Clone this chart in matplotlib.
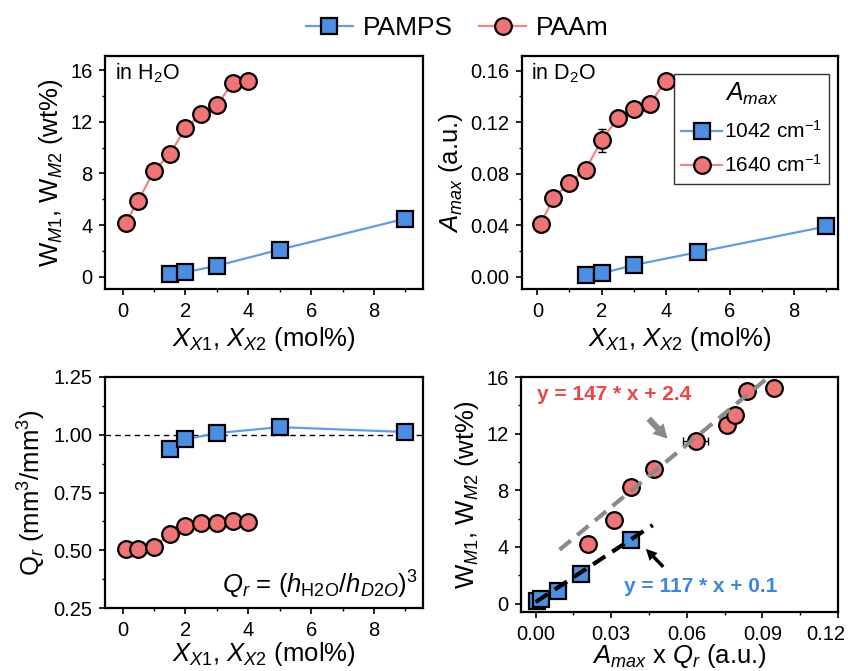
import numpy as np
import matplotlib
matplotlib.use("Agg")
import matplotlib.pyplot as plt
from matplotlib.lines import Line2D

plt.rcParams["font.family"] = ["Liberation Sans", "DejaVu Sans"]
plt.rcParams["mathtext.fontset"] = "custom"
plt.rcParams["mathtext.rm"] = "Liberation Sans"
plt.rcParams["mathtext.it"] = "Liberation Sans:italic"
plt.rcParams["mathtext.bf"] = "Liberation Sans:bold"

# -----------------------------
# DATA
# -----------------------------
x_paam = [0.1, 0.5, 1.0, 1.5, 2.0, 2.5, 3.0, 3.5, 4.0]
x_pamps = [1.5, 2.0, 3.0, 5.0, 9.0]

w_paam = [4.2, 5.9, 8.2, 9.5, 11.5, 12.6, 13.3, 15.0, 15.2]
w_pamps = [0.2, 0.35, 0.85, 2.1, 4.5]

a_paam = [0.041, 0.061, 0.073, 0.083, 0.106, 0.123, 0.130, 0.134, 0.152]
a_paam_err = [0.0, 0.0, 0.0, 0.0, 0.009, 0.003, 0.0, 0.0, 0.0]
a_pamps = [0.0015, 0.0025, 0.009, 0.019, 0.039]

q_paam = [0.505, 0.507, 0.515, 0.57, 0.605, 0.62, 0.617, 0.625, 0.622]
q_pamps = [0.94, 0.98, 1.007, 1.033, 1.012]

aq_paam = [0.0207, 0.031, 0.0378, 0.047, 0.0635, 0.076, 0.079, 0.084, 0.0945]
aq_paam_err = [0.0, 0.0, 0.0, 0.0, 0.005, 0.002, 0.0015, 0.0, 0.002]
aq_pamps = [0.0005, 0.0022, 0.0088, 0.018, 0.038]

fit_paam = (147, 2.4)
fit_paam_range = [0.0095, 0.093]
fit_pamps = (117, 0.1)
fit_pamps_range = [0.0, 0.0465]

# -----------------------------
# STYLE
# -----------------------------
blue_fill = "#4a8fe3"
blue_line = "#5c9ded"
red_fill = "#f07474"
red_line = "#f28686"

sq = dict(marker="s", ms=11, mfc=blue_fill, mec="black", mew=1.6,
          color=blue_line, lw=1.6)
ci = dict(marker="o", ms=12, mfc=red_fill, mec="black", mew=1.6,
          color=red_line, lw=1.6)
sq_pts = {k: v for k, v in sq.items() if k not in ("color", "lw")}
ci_pts = {k: v for k, v in ci.items() if k not in ("color", "lw")}

TICK = 14.5
LAB = 18.5


def style_axis(ax):
    for s in ax.spines.values():
        s.set_linewidth(1.6)
    ax.tick_params(which="major", direction="out", length=4, width=1.2,
                   labelsize=TICK, pad=5)
    ax.tick_params(which="minor", direction="out", length=2.5, width=1.0)


fig = plt.figure(figsize=(8.48, 6.71), dpi=100)
W, H = 848, 671


def add_ax(l, r, t, b):
    return fig.add_axes([l / W, 1 - b / H, (r - l) / W, (b - t) / H])


XLABEL = r"$X_{X1}$, $X_{X2}$ (mol%)"
WLABEL = r"W$_{M1}$, W$_{M2}$ (wt%)"

# -----------------------------
# Panel 1: W vs X (in H2O)
# -----------------------------
ax1 = add_ax(105, 423, 56, 289)
ax1.plot(x_pamps, w_pamps, **sq)
ax1.plot(x_paam, w_paam, **ci)
ax1.set_xlim(-0.56, 9.56)
ax1.set_ylim(-0.95, 17.1)
ax1.set_xticks([0, 2, 4, 6, 8])
ax1.set_yticks([0, 4, 8, 12, 16])
ax1.set_xticks(np.arange(1, 10, 2), minor=True)
ax1.set_yticks([2, 6, 10, 14], minor=True)
style_axis(ax1)
ax1.set_xlabel(XLABEL, fontsize=LAB, labelpad=3)
ax1.set_ylabel(WLABEL, fontsize=LAB, labelpad=4)
ax1.text(0.03, 0.975, r"in H$_2$O", transform=ax1.transAxes,
         fontsize=15.5, va="top", ha="left")

# -----------------------------
# Panel 2: A_max vs X (in D2O)
# -----------------------------
ax2 = add_ax(522, 838, 56, 289)
ax2.plot(x_pamps, a_pamps, label=r"1042 cm$^{-1}$", **sq)
ax2.errorbar(x_paam, a_paam, yerr=a_paam_err, fmt="none", ecolor="black",
             elinewidth=1.0, capsize=3, capthick=1.0, zorder=1)
ax2.plot(x_paam, a_paam, label=r"1640 cm$^{-1}$", **ci)
ax2.set_xlim(-0.48, 9.37)
ax2.set_ylim(-0.0096, 0.1714)
ax2.set_xticks([0, 2, 4, 6, 8])
ax2.set_yticks([0.0, 0.04, 0.08, 0.12, 0.16])
ax2.set_yticklabels(["0.00", "0.04", "0.08", "0.12", "0.16"])
ax2.set_xticks(np.arange(1, 10, 2), minor=True)
ax2.set_yticks([0.02, 0.06, 0.10, 0.14], minor=True)
style_axis(ax2)
ax2.set_xlabel(XLABEL, fontsize=LAB, labelpad=3)
ax2.set_ylabel(r"$A_{max}$ (a.u.)", fontsize=LAB, labelpad=4)
ax2.text(0.03, 0.975, r"in D$_2$O", transform=ax2.transAxes,
         fontsize=15.5, va="top", ha="left")
leg2 = ax2.legend(loc="upper right", bbox_to_anchor=(0.9715, 0.923),
                  borderaxespad=0, title=r"$A_{max}$", title_fontsize=18,
                  fontsize=15, fancybox=False, edgecolor="black",
                  handlelength=2.0, handletextpad=0.05, borderpad=0.35,
                  labelspacing=0.6)
leg2.get_frame().set_linewidth(1.0)

# -----------------------------
# Panel 3: Q_r vs X
# -----------------------------
ax3 = add_ax(105, 423, 377, 608)
ax3.axhline(1.0, color="black", lw=1.0, ls=(0, (4, 3)), zorder=0)
ax3.plot(x_pamps, q_pamps, **sq)
ax3.plot(x_paam, q_paam, **ci)
ax3.set_xlim(-0.56, 9.56)
ax3.set_ylim(0.25, 1.25)
ax3.set_xticks([0, 2, 4, 6, 8])
ax3.set_yticks([0.25, 0.5, 0.75, 1.0, 1.25])
ax3.set_yticklabels(["0.25", "0.50", "0.75", "1.00", "1.25"])
ax3.set_xticks(np.arange(1, 10, 2), minor=True)
ax3.set_yticks([0.375, 0.625, 0.875, 1.125], minor=True)
style_axis(ax3)
ax3.set_xlabel(XLABEL, fontsize=LAB, labelpad=0)
ax3.set_ylabel(r"Q$_r$ (mm$^3$/mm$^3$)", fontsize=LAB, labelpad=4)
ax3.text(0.985, 0.03, r"$Q_r$ = ($h_{\mathrm{H2O}}$/$h_{D2O}$)$^3$",
         transform=ax3.transAxes, fontsize=18.5, va="bottom", ha="right")

# -----------------------------
# Panel 4: W vs A_max x Q_r
# -----------------------------
ax4 = add_ax(521, 838, 377, 612)
ax4.errorbar(aq_paam, w_paam, xerr=aq_paam_err, fmt="none", ecolor="black",
             elinewidth=1.0, capsize=3, capthick=1.0, zorder=1)
ax4.plot(aq_paam, w_paam, ls="none", **ci_pts)
ax4.plot(aq_pamps, w_pamps, ls="none", **sq_pts)
fx = np.array(fit_paam_range)
ax4.plot(fx, fit_paam[0] * fx + fit_paam[1], color="#8a8a8a", lw=3,
         ls=(0, (3.5, 2.0)), zorder=5)
fx = np.array(fit_pamps_range)
ax4.plot(fx, fit_pamps[0] * fx + fit_pamps[1], color="black", lw=3,
         ls=(0, (3.5, 2.0)), zorder=5)
ax4.set_xlim(-0.0058, 0.12)
ax4.set_ylim(-0.6, 16)
ax4.set_xticks([0.0, 0.03, 0.06, 0.09, 0.12])
ax4.set_xticklabels(["0.00", "0.03", "0.06", "0.09", ""])
ax4.set_yticks([0, 4, 8, 12, 16])
ax4.set_xticks([0.015, 0.045, 0.075, 0.105], minor=True)
ax4.set_yticks([2, 6, 10, 14], minor=True)
style_axis(ax4)
# last tick label pulled in so it stays inside the figure
ax4.annotate("0.12", xy=(0.12, 0), xycoords=ax4.get_xaxis_transform(),
             xytext=(-9, -9), textcoords="offset points",
             ha="center", va="top", fontsize=TICK)
ax4.set_xlabel(r"$A_{max}$ x $Q_r$ (a.u.)", fontsize=LAB, labelpad=-1)
ax4.set_ylabel(WLABEL, fontsize=LAB, labelpad=4)
ax4.text(0.0005, 14.75, "y = 147 * x + 2.4", color="#ee4444",
         fontsize=15, fontweight="bold", va="center", ha="left")
ax4.text(0.035, 1.2, "y = 117 * x + 0.1", color="#3d86e0",
         fontsize=15, fontweight="bold", va="center", ha="left")
ax4.annotate("", xy=(0.0531, 11.5), xytext=(0.0441, 13.2),
             arrowprops=dict(arrowstyle="simple,head_width=1.1,head_length=1.0,tail_width=0.45",
                             color="#8a8a8a", lw=0))
ax4.annotate("", xy=(0.043, 4.0), xytext=(0.0514, 2.45),
             arrowprops=dict(arrowstyle="simple,head_width=0.8,head_length=0.8,tail_width=0.25",
                             color="black", lw=0))

# -----------------------------
# Top legend
# -----------------------------
handles = [Line2D([], [], **sq), Line2D([], [], **ci)]
fig.legend(handles, ["PAMPS", "PAAm"], loc="center", ncol=2,
           bbox_to_anchor=(457 / W, 1 - 28 / H), frameon=False,
           fontsize=19, handlelength=1.8, handletextpad=0.35,
           columnspacing=1.0)

fig.savefig("out.png", dpi=100)
